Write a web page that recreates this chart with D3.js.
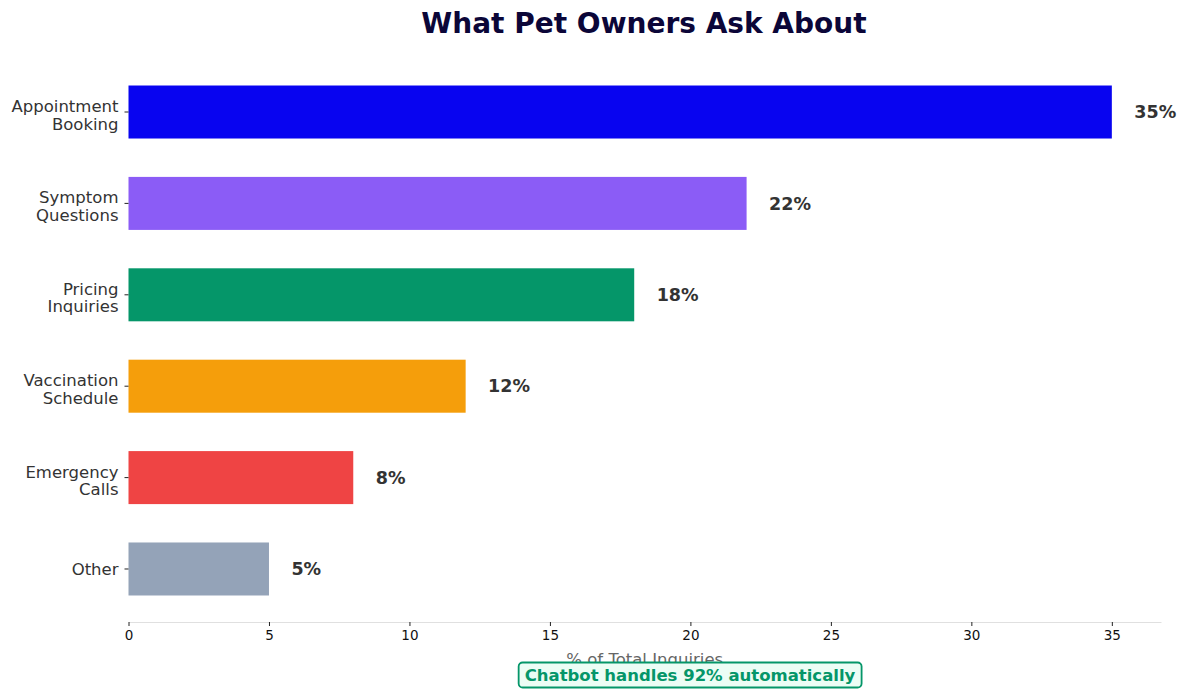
<!DOCTYPE html>
<html>
<head>
<meta charset="utf-8">
<script src="https://cdn.jsdelivr.net/npm/d3@7"></script>
<style>
  body { margin: 0; background: #fff; }
  svg { font-family: "DejaVu Sans", sans-serif; }
</style>
</head>
<body>
<div id="chart"></div>
<script>
// --- data ---
var categories = ["Appointment\nBooking", "Symptom\nQuestions", "Pricing\nInquiries", "Vaccination\nSchedule", "Emergency\nCalls", "Other"];
var shares = [35, 22, 18, 12, 8, 5];
var bar_colors = ["#0804f0", "#8b5cf6", "#059669", "#f59e0b", "#ef4444", "#94a3b8"];
var x_ticks = [0, 5, 10, 15, 20, 25, 30, 35];

var width = 1187;
var height = 692;
var margin = ({top: 59, right: 26, bottom: 70, left: 128.5});

var svg = d3.select("#chart").append("svg")
    .attr("width", width).attr("height", height);

// x scale, matplotlib style 5% margin
var x = d3.scaleLinear().domain([0, d3.max(shares) * 1.05]).range([margin.left, width - margin.right]);
// y: categories at 0..5, limits -0.58..5.58
var y = d3.scaleLinear().domain([-0.58, categories.length - 1 + 0.58]).range([margin.top, height - margin.bottom]);
var barH = (y(1) - y(0)) * 0.58;

// bars
svg.append("g").selectAll("rect").data(shares).join("rect")
    .attr("x", x(0))
    .attr("y", (d, i) => y(i) - barH / 2)
    .attr("width", d => x(d) - x(0))
    .attr("height", barH)
    .attr("fill", (d, i) => bar_colors[i]);

// value labels
svg.append("g").selectAll("text").data(shares).join("text")
    .attr("x", d => x(d + 0.8))
    .attr("y", (d, i) => y(i))
    .attr("dy", "0.35em")
    .attr("font-size", 17.5)
    .attr("font-weight", "bold")
    .attr("fill", "#333")
    .text(d => d + "%");

// x axis
var xAxis = svg.append("g")
    .attr("transform", "translate(0," + (height - margin.bottom) + ")")
    .call(d3.axisBottom(x).tickValues(x_ticks).tickSize(4).tickSizeOuter(0).tickPadding(4));
xAxis.select(".domain").attr("stroke", "#e0e0e0");
xAxis.selectAll(".tick line").attr("stroke", "#222");
xAxis.selectAll(".tick text").attr("font-size", 13.5).attr("fill", "#111").attr("font-family", "DejaVu Sans");

// y axis ticks + multi-line labels
var lineStep = 17.5;
var yg = svg.append("g");
categories.forEach(function(label, i){
    yg.append("line")
        .attr("x1", x(0) - 4).attr("x2", x(0))
        .attr("y1", y(i)).attr("y2", y(i))
        .attr("stroke", "#222");
    var lines = label.split("\n");
    var offset = 6 + (lines.length - 1) * 2.75;
    var t = yg.append("text")
        .attr("text-anchor", "end")
        .attr("font-size", 16.5)
        .attr("fill", "#333");
    lines.forEach(function(l, k){
        t.append("tspan")
            .attr("x", x(0) - 10)
            .attr("y", y(i) + (k - (lines.length - 1) / 2) * lineStep + offset)
            .text(l);
    });
});

// x axis label
svg.append("text")
    .attr("x", (margin.left + width - margin.right) / 2)
    .attr("y", 665)
    .attr("text-anchor", "middle")
    .attr("font-size", 16.5)
    .attr("fill", "#666")
    .text("% of Total Inquiries");

// title
svg.append("text")
    .attr("x", 644)
    .attr("y", 33)
    .attr("text-anchor", "middle")
    .attr("font-size", 28)
    .attr("font-weight", "bold")
    .attr("fill", "#0b0638")
    .text("What Pet Owners Ask About");

// annotation box (sits over the axis label, as in the original)
var note = svg.append("g");
var noteText = note.append("text")
    .attr("x", 690)
    .attr("y", 675)
    .attr("dy", "0.35em")
    .attr("text-anchor", "middle")
    .attr("font-size", 16.5)
    .attr("font-weight", "bold")
    .attr("fill", "#059669")
    .text("Chatbot handles 92% automatically");
var bb = noteText.node().getBBox();
note.insert("rect", "text")
    .attr("x", bb.x - 6).attr("y", 662.5)
    .attr("width", bb.width + 12).attr("height", 25)
    .attr("rx", 4)
    .attr("fill", "#ecfdf5")
    .attr("stroke", "#059669")
    .attr("stroke-width", 1.8);
</script>
</body>
</html>
